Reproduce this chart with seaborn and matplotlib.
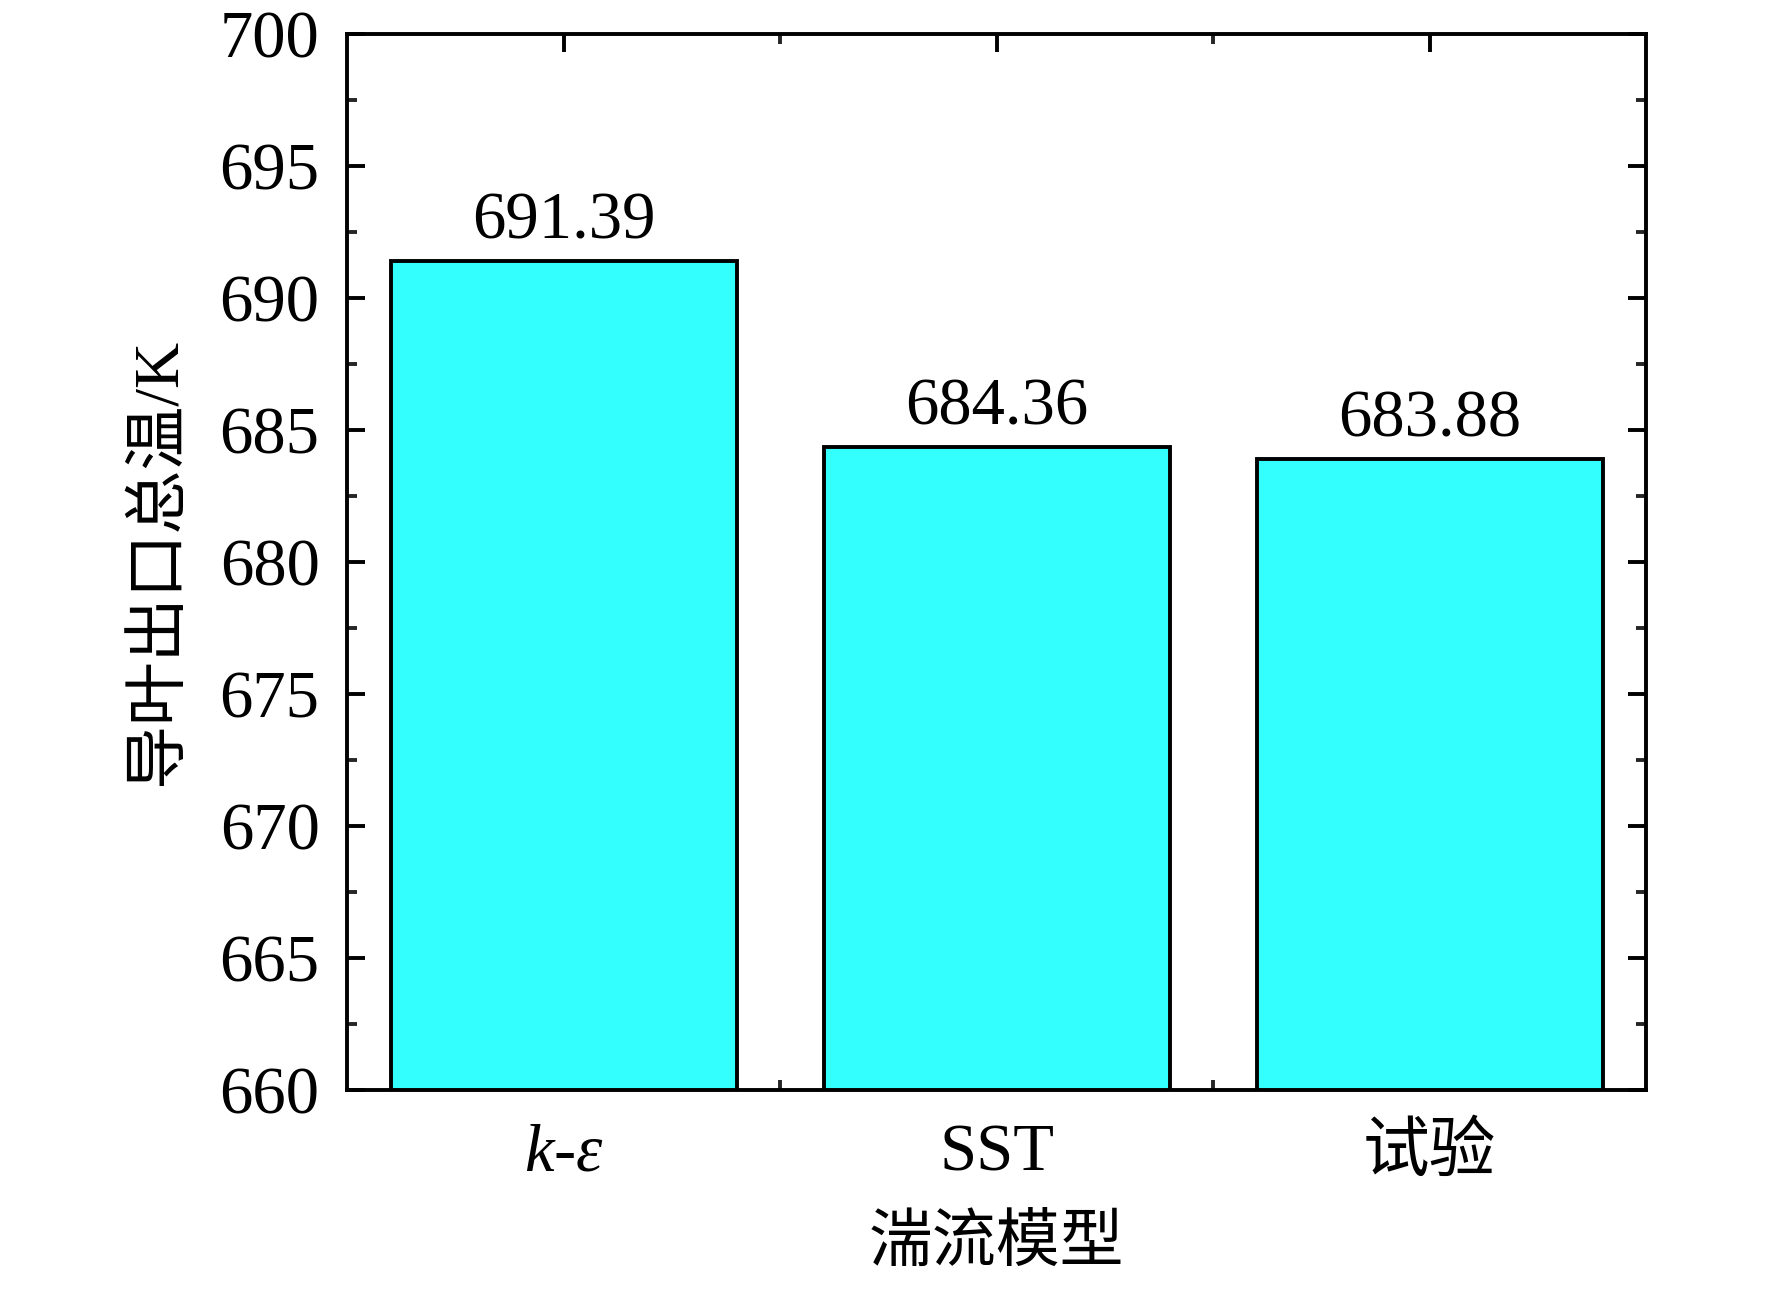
import matplotlib
matplotlib.use("Agg")
import matplotlib.pyplot as plt
from matplotlib.ticker import MultipleLocator, FixedLocator
import seaborn as sns
import pandas as pd

# 数据
models = ["$k$-$\\varepsilon$", "SST", "试验"]
temps = [691.39, 684.36, 683.88]

sns.set_style("ticks")
plt.rcParams['font.family'] = ['Liberation Serif', 'Noto Sans CJK SC']
plt.rcParams['mathtext.fontset'] = 'custom'
plt.rcParams['mathtext.rm'] = 'Liberation Serif'
plt.rcParams['mathtext.it'] = 'Liberation Serif:italic'
plt.rcParams['text.color'] = 'black'
plt.rcParams['axes.labelcolor'] = 'black'

df = pd.DataFrame({"model": models, "temp": temps})

fig, ax = plt.subplots(figsize=(17.72, 12.9), dpi=100)
fig.subplots_adjust(left=0.196, right=0.929, top=0.974, bottom=0.155)

sns.barplot(data=df, x="model", y="temp", ax=ax, color="#33FFFF",
            saturation=1, width=0.8, edgecolor="black", linewidth=2.8)

ax.set_ylim(660, 700)
ax.set_xlim(-0.5, 2.5)
ax.yaxis.set_major_locator(MultipleLocator(5))
ax.yaxis.set_minor_locator(MultipleLocator(2.5))
ax.xaxis.set_minor_locator(FixedLocator([0.5, 1.5]))

ax.bar_label(ax.containers[0], fmt='%.2f', padding=6, fontsize=48, color='black')

for s in ax.spines.values():
    s.set_visible(True)
    s.set_linewidth(2.8)
    s.set_color("black")

ax.tick_params(axis='both', which='major', direction='in', length=13, width=2.8,
               top=True, right=True, labelsize=48, colors='black')
ax.tick_params(axis='both', which='minor', direction='in', length=7, width=2.8,
               top=True, right=True)
ax.tick_params(axis='x', which='major', pad=24)
ax.tick_params(axis='y', which='major', pad=20)

ax.set_xlabel("湍流模型", fontsize=46, labelpad=22)
ax.set_ylabel("导叶出口总温/K", fontsize=46, labelpad=22)

plt.savefig("out.png", dpi=100)
